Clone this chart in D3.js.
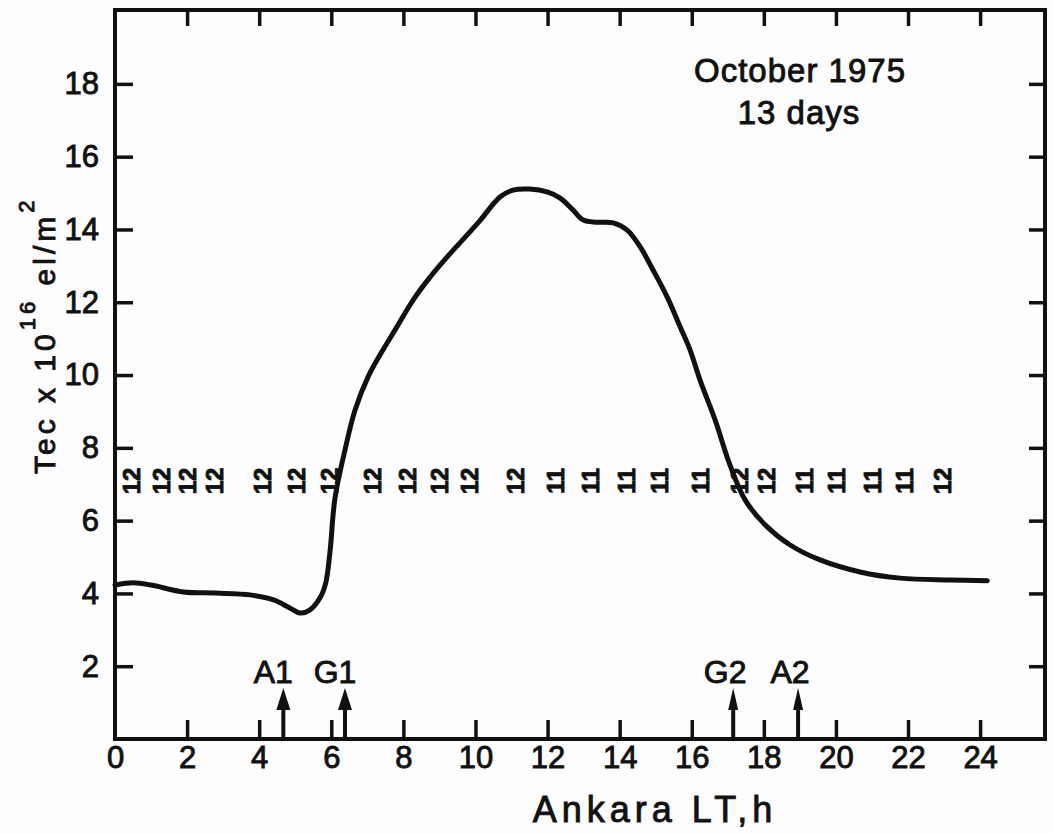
<!DOCTYPE html>
<html>
<head>
<meta charset="utf-8">
<script src="https://cdn.jsdelivr.net/npm/d3@7"></script>
<style>
  body { margin: 0; background: #fdfdfd; }
  text { font-family: "Liberation Sans", Arial, sans-serif; fill: #111; stroke: #111; stroke-width: 0.9; }
</style>
</head>
<body>
<div id="visArea"></div>
<script>

// TEC curve (hour, value)
var hours = [0, 0.5, 1.0, 1.9, 2.8, 3.75, 4.4, 4.85, 5.13, 5.4, 5.7, 5.85, 5.97, 6.1, 6.38, 6.66, 7.02, 7.35,
             7.77, 8.27, 8.74, 9.21, 9.77, 10.13, 10.68, 11.04, 11.51, 11.99, 12.35, 12.71, 12.99, 13.37,
             13.82, 14.21, 14.57, 14.93, 15.32, 15.68, 15.95, 16.23, 16.65, 17.06, 17.48, 18.04, 18.73,
             19.56, 20.67, 21.78, 23.17, 24.2];
var tec = [4.23, 4.29, 4.23, 4.04, 4.01, 3.96, 3.82, 3.6, 3.46, 3.54, 3.9, 4.3, 5.2, 6.6, 7.94, 9.04, 9.95, 10.55,
           11.24, 12.06, 12.69, 13.24, 13.85, 14.25, 14.89, 15.08, 15.11, 15.03, 14.86, 14.53, 14.26, 14.2,
           14.18, 13.98, 13.52, 12.88, 12.14, 11.32, 10.7, 9.86, 8.76, 7.53, 6.57, 5.88, 5.33,
           4.92, 4.59, 4.42, 4.37, 4.35];

// number-of-days markers along the row near 7
var markerHours = [0.47, 1.3, 2.02, 2.77, 4.1, 5.05, 5.97, 7.16, 8.13, 9.02, 9.85, 11.13, 12.24, 13.21,
                   14.21, 15.12, 16.26, 17.34, 18.09, 19.14, 20.03, 21.03, 21.92, 22.97];
var markerCounts = ['12', '12', '12', '12', '12', '12', '12', '12', '12', '12', '12', '12', '11', '11',
                    '11', '11', '11', '12', '12', '11', '11', '11', '11', '12'];
var markerLevel = 7.09;

// sunrise / sunset arrows
var arrowNames = ['A1', 'G1', 'G2', 'A2'];
var arrowHours = [4.67, 6.38, 17.15, 18.95];
var arrowTop = 1.4;

var xTicks = [0, 2, 4, 6, 8, 10, 12, 14, 16, 18, 20, 22, 24];
var yTicks = [2, 4, 6, 8, 10, 12, 14, 16, 18];

var W = 1053, H = 833;
var fLeft = 115, fRight = 1045, fTop = 10, fBottom = 739;

var svg = d3.select('#visArea').append('svg')
  .attr('width', W).attr('height', H);

var x = d3.scaleLinear().domain([0, 25.8]).range([fLeft, fRight]);
var y = d3.scaleLinear().domain([0, 20.03]).range([fBottom, fTop]);

// frame
svg.append('rect')
  .attr('x', fLeft).attr('y', fTop)
  .attr('width', fRight - fLeft).attr('height', fBottom - fTop)
  .attr('fill', 'none').attr('stroke', '#111').attr('stroke-width', 4);

// bottom axis: inward ticks, labels below
var xAxis = d3.axisBottom(x).tickValues(xTicks).tickSize(-19).tickSizeOuter(0).tickPadding(6)
  .tickFormat(d3.format('d'));
var gx = svg.append('g').attr('transform', 'translate(0,' + fBottom + ')').call(xAxis);
gx.select('.domain').remove();
gx.selectAll('.tick line').attr('stroke', '#111').attr('stroke-width', 3.5)
  .filter(function(d){ return d == 0; }).remove();
gx.selectAll('.tick text').style('font-size', '31px').attr('dy', '0.74em');

// top ticks
var gxt = svg.append('g').attr('transform', 'translate(0,' + fTop + ')')
  .call(d3.axisTop(x).tickValues(xTicks.slice(1)).tickSize(-16).tickSizeOuter(0).tickFormat(''));
gxt.select('.domain').remove();
gxt.selectAll('.tick line').attr('stroke', '#111').attr('stroke-width', 3.5);

// left axis
var yAxis = d3.axisLeft(y).tickValues(yTicks).tickSize(-18).tickSizeOuter(0).tickPadding(16);
var gy = svg.append('g').attr('transform', 'translate(' + fLeft + ',0)').call(yAxis);
gy.select('.domain').remove();
gy.selectAll('.tick line').attr('stroke', '#111').attr('stroke-width', 3.5);
gy.selectAll('.tick text').style('font-size', '31px');

// right ticks
var gyr = svg.append('g').attr('transform', 'translate(' + fRight + ',0)')
  .call(d3.axisRight(y).tickValues(yTicks).tickSize(-16).tickSizeOuter(0).tickFormat(''));
gyr.select('.domain').remove();
gyr.selectAll('.tick line').attr('stroke', '#111').attr('stroke-width', 3.5);

// TEC curve
var pts = hours.map(function(h, i){ return [h, tec[i]]; });
var line = d3.line()
  .x(function(d){ return x(d[0]); })
  .y(function(d){ return y(d[1]); })
  .curve(d3.curveCatmullRom.alpha(0.5));
svg.append('path')
  .datum(pts)
  .attr('d', line)
  .attr('fill', 'none')
  .attr('stroke', '#111')
  .attr('stroke-width', 5)
  .attr('stroke-linejoin', 'round')
  .attr('stroke-linecap', 'round');

// markers (rotated day counts)
svg.append('g').selectAll('text')
  .data(markerHours)
  .enter()
  .append('text')
  .attr('transform', function(d){ return 'translate(' + (x(d) + 8) + ',' + y(markerLevel) + ') rotate(-90)'; })
  .attr('text-anchor', 'middle')
  .style('font-size', '24px')
  .style('font-weight', 'bold')
  .text(function(d, i){ return markerCounts[i]; });

// arrows
var arrows = svg.append('g');
arrowHours.forEach(function(h, i){
  var ax = x(h), ytip = y(arrowTop);
  arrows.append('line')
    .attr('x1', ax).attr('x2', ax)
    .attr('y1', fBottom).attr('y2', ytip + 10)
    .attr('stroke', '#111').attr('stroke-width', 4);
  var hw = i < 2 ? 7 : 5;
  arrows.append('path')
    .attr('d', 'M' + ax + ',' + ytip + 'L' + (ax - hw) + ',' + (ytip + 22) + 'L' + (ax + hw) + ',' + (ytip + 22) + 'Z')
    .attr('fill', '#111');
  arrows.append('text')
    .attr('x', ax - 8 + (i < 2 ? -2 : 0))
    .attr('y', 683)
    .attr('text-anchor', 'middle')
    .style('font-size', '32px')
    .text(arrowNames[i]);
});

// title
svg.append('text').attr('x', 800).attr('y', 82).attr('text-anchor', 'middle')
  .style('font-size', '33px').style('letter-spacing', '1px').text('October 1975');
svg.append('text').attr('x', 799).attr('y', 124).attr('text-anchor', 'middle')
  .style('font-size', '33px').style('letter-spacing', '1px').text('13 days');

// x label
svg.append('text').attr('x', 655).attr('y', 822).attr('text-anchor', 'middle')
  .style('font-size', '36px').style('letter-spacing', '5px').text('Ankara LT,h');

// y label
var yl = svg.append('text')
  .attr('transform', 'translate(55,474) rotate(-90)')
  .style('font-size', '30px')
  .style('letter-spacing', '4px');
yl.append('tspan').text('Tec x 10');
yl.append('tspan').attr('dy', -20).style('font-size', '22px').text('16');
yl.append('tspan').attr('dy', 20).text(' el/m');
yl.append('tspan').attr('dy', -21).style('font-size', '22px').text('2');

</script>
</body>
</html>
